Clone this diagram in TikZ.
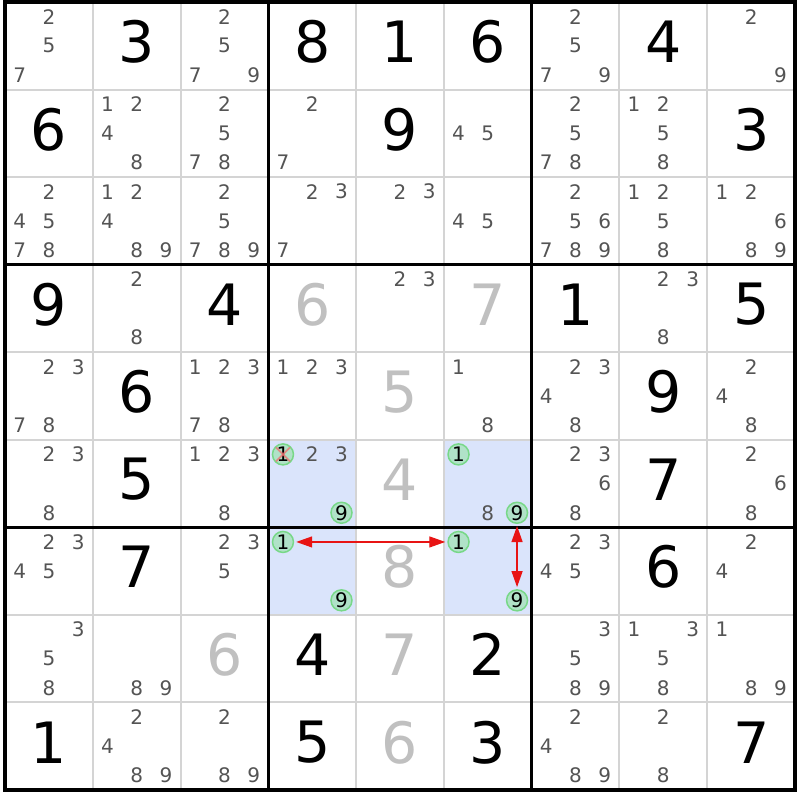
\documentclass[tikz,border=0pt]{standalone}
\usepackage{fontspec}
\newfontfamily\dvs{DejaVu Sans}
\usetikzlibrary{arrows.meta}
\definecolor{candgrey}{RGB}{84,84,84}
\definecolor{biggrey}{RGB}{192,192,192}
\definecolor{thin}{RGB}{212,212,212}
\definecolor{cellshade}{RGB}{218,228,251}
\definecolor{cfill}{RGB}{176,226,200}
\definecolor{cdraw}{RGB}{120,216,136}
\definecolor{arrred}{RGB}{232,20,20}
\definecolor{xred}{RGB}{240,110,110}
\def\cw{87.78}
\def\ch{87.56}
\tikzset{
  cand/.style={inner sep=0pt,text=candgrey,font=\dvs\fontsize{20}{20}\selectfont},
  bigblack/.style={inner sep=0pt,text=black,font=\dvs\fontsize{57}{57}\selectfont},
  biggray/.style={inner sep=0pt,text=biggrey,font=\dvs\fontsize{57}{57}\selectfont},
  circcand/.style={circle,inner sep=0pt,minimum size=21pt,draw=cdraw,line width=1.5pt,fill=cfill,text=black,font=\dvs\fontsize{20}{20}\selectfont},
  thinline/.style={draw=thin,line width=2pt},
  thickline/.style={draw=black,line width=3.5pt},
  link/.style={draw=arrred,line width=1.3pt,{Triangle[length=16pt,width=11pt]}-{Triangle[length=16pt,width=11pt]},shorten >=2pt,shorten <=2pt}
}
\newcommand\candsOf[3]{%
  \foreach \d in {#3}{%
    \pgfmathsetmacro\px{5+\cw*(#2-0.5)+\cw/3*(mod(\d-1,3)-1)}%
    \pgfmathsetmacro\py{2+\ch*(#1-0.5)+\ch/3*(floor((\d-1)/3)-1)}%
    \node[cand] (k#1#2\d) at (\px,\py) {\d};
  }}
\newcommand\circOf[3]{%
    \pgfmathsetmacro\px{5+\cw*(#2-0.5)+\cw/3*(mod(#3-1,3)-1)}%
    \pgfmathsetmacro\py{2+\ch*(#1-0.5)+\ch/3*(floor((#3-1)/3)-1)}%
    \node[circcand] (o#1#2#3) at (\px,\py) {#3};}
\newcommand\givenB[3]{\node[bigblack] (g#1#2) at ({5+\cw*(#2-0.5)},{2+\ch*(#1-0.5)-4}) {#3};}
\newcommand\givenG[3]{\node[biggray] (g#1#2) at ({5+\cw*(#2-0.5)},{2+\ch*(#1-0.5)-4}) {#3};}
\begin{document}
\begin{tikzpicture}[x=1pt,y=-1pt]
\useasboundingbox (0,0) rectangle (800,800);
\fill[white] (0,0) rectangle (800,800);
% shaded cells
\foreach \r/\c in {6/4,6/6,7/4,7/6}{
  \fill[cellshade] ({5+\cw*(\c-1)},{2+\ch*(\r-1)}) rectangle ({5+\cw*\c},{2+\ch*\r});
}
% thin grid
\foreach \i in {1,2,4,5,7,8}{
  \draw[thinline] ({5+\cw*\i},2) -- ({5+\cw*\i},790);
  \draw[thinline] (5,{2+\ch*\i}) -- (795,{2+\ch*\i});
}
% thick grid
\foreach \i in {3,6}{
  \draw[thickline] ({5+\cw*\i},2) -- ({5+\cw*\i},790);
  \draw[thickline] (5,{2+\ch*\i}) -- (795,{2+\ch*\i});
}
\draw[thickline] (5,2) rectangle (795,790);
% givens
\givenB{1}{2}{3}\givenB{1}{4}{8}\givenB{1}{5}{1}\givenB{1}{6}{6}\givenB{1}{8}{4}
\givenB{2}{1}{6}\givenB{2}{5}{9}\givenB{2}{9}{3}
\givenB{4}{1}{9}\givenB{4}{3}{4}\givenB{4}{7}{1}\givenB{4}{9}{5}
\givenB{5}{2}{6}\givenB{5}{8}{9}
\givenB{6}{2}{5}\givenB{6}{8}{7}
\givenB{7}{2}{7}\givenB{7}{8}{6}
\givenB{8}{4}{4}\givenB{8}{6}{2}
\givenB{9}{1}{1}\givenB{9}{4}{5}\givenB{9}{6}{3}\givenB{9}{9}{7}
\givenG{4}{4}{6}\givenG{4}{6}{7}\givenG{5}{5}{5}\givenG{6}{5}{4}
\givenG{7}{5}{8}\givenG{8}{3}{6}\givenG{8}{5}{7}\givenG{9}{5}{6}
% candidates
\candsOf{1}{1}{2,5,7}\candsOf{1}{3}{2,5,7,9}\candsOf{1}{7}{2,5,7,9}\candsOf{1}{9}{2,9}
\candsOf{2}{2}{1,2,4,8}\candsOf{2}{3}{2,5,7,8}\candsOf{2}{4}{2,7}\candsOf{2}{6}{4,5}\candsOf{2}{7}{2,5,7,8}\candsOf{2}{8}{1,2,5,8}
\candsOf{3}{1}{2,4,5,7,8}\candsOf{3}{2}{1,2,4,8,9}\candsOf{3}{3}{2,5,7,8,9}\candsOf{3}{4}{2,3,7}\candsOf{3}{5}{2,3}\candsOf{3}{6}{4,5}\candsOf{3}{7}{2,5,6,7,8,9}\candsOf{3}{8}{1,2,5,8}\candsOf{3}{9}{1,2,6,8,9}
\candsOf{4}{2}{2,8}\candsOf{4}{5}{2,3}\candsOf{4}{8}{2,3,8}
\candsOf{5}{1}{2,3,7,8}\candsOf{5}{3}{1,2,3,7,8}\candsOf{5}{4}{1,2,3}\candsOf{5}{6}{1,8}\candsOf{5}{7}{2,3,4,8}\candsOf{5}{9}{2,4,8}
\candsOf{6}{1}{2,3,8}\candsOf{6}{3}{1,2,3,8}\candsOf{6}{4}{2,3}\candsOf{6}{6}{8}\candsOf{6}{7}{2,3,6,8}\candsOf{6}{9}{2,6,8}
\candsOf{7}{1}{2,3,4,5}\candsOf{7}{3}{2,3,5}\candsOf{7}{7}{2,3,4,5}\candsOf{7}{9}{2,4}
\candsOf{8}{1}{3,5,8}\candsOf{8}{2}{8,9}\candsOf{8}{7}{3,5,8,9}\candsOf{8}{8}{1,3,5,8}\candsOf{8}{9}{1,8,9}
\candsOf{9}{2}{2,4,8,9}\candsOf{9}{3}{2,8,9}\candsOf{9}{7}{2,4,8,9}\candsOf{9}{8}{2,8}
% circled candidates
\circOf{6}{4}{1}\circOf{6}{4}{9}\circOf{6}{6}{1}\circOf{6}{6}{9}
\circOf{7}{4}{1}\circOf{7}{4}{9}\circOf{7}{6}{1}\circOf{7}{6}{9}
% elimination cross
\draw[xred,opacity=0.75,line width=1.8pt] ([shift={(-7,-7)}]o641.center) -- ([shift={(7,7)}]o641.center);
\draw[xred,opacity=0.75,line width=1.8pt] ([shift={(7,-7)}]o641.center) -- ([shift={(-7,7)}]o641.center);
% links
\draw[link] (o741) -- (o761);
\draw[link] (o669) -- (o769);
\end{tikzpicture}
\end{document}
